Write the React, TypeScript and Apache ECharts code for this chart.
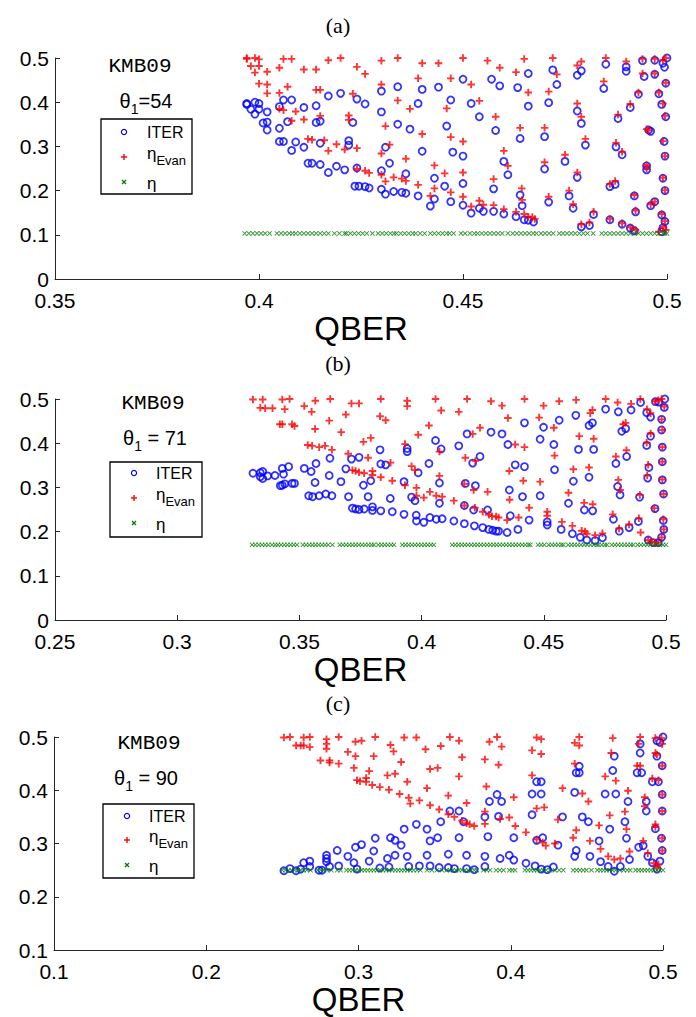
import React, { useEffect, useRef } from "react";
import * as echarts from "echarts";

// ---------- Panel (a): theta1 = 54 ----------
const iterA: number[][] = [
  [0.397,0.397],[0.397,0.395],[0.398,0.384],[0.399,0.373],[0.399,0.4],[0.4,0.397],[0.4,0.384],[0.402,0.378],
  [0.401,0.353],[0.402,0.355],[0.402,0.337],[0.406,0.405],[0.408,0.405],[0.405,0.39],[0.407,0.356],[0.405,0.341],
  [0.411,0.388],[0.414,0.392],[0.417,0.414],[0.42,0.42],[0.424,0.407],[0.426,0.396],[0.414,0.354],[0.415,0.357],
  [0.423,0.354],[0.43,0.425],[0.43,0.378],[0.434,0.435],[0.434,0.35],[0.437,0.339],[0.44,0.429],[0.439,0.397],
  [0.405,0.311],[0.406,0.311],[0.408,0.291],[0.409,0.31],[0.411,0.298],[0.415,0.307],[0.422,0.313],[0.422,0.303],
  [0.431,0.298],[0.432,0.262],[0.44,0.289],[0.412,0.262],[0.413,0.262],[0.415,0.259],[0.417,0.241],[0.419,0.255],
  [0.421,0.247],[0.424,0.251],[0.43,0.245],[0.436,0.238],[0.4235,0.21],[0.4245,0.21],[0.426,0.209],[0.427,0.206],
  [0.43,0.203],[0.431,0.192],[0.433,0.198],[0.435,0.196],[0.436,0.194],[0.439,0.188],[0.443,0.228],[0.443,0.181],
  [0.442,0.165],
  [0.444,0.434],[0.45,0.452],[0.457,0.452],[0.459,0.437],[0.466,0.465],[0.472,0.473],[0.473,0.44],[0.478,0.461],
  [0.479,0.471],[0.485,0.486],[0.49,0.48],[0.49,0.47],[0.4944,0.458],[0.497,0.463],[0.494,0.494],[0.497,0.495],
  [0.4994,0.479],[0.5,0.5],[0.499,0.488],[0.447,0.405],[0.452,0.397],[0.446,0.346],[0.454,0.367],[0.458,0.336],
  [0.4634,0.433],[0.466,0.391],[0.471,0.399],[0.478,0.38],[0.479,0.352],[0.4845,0.431],[0.493,0.418],[0.498,0.419],
  [0.491,0.388],[0.488,0.363],[0.4987,0.395],[0.4997,0.443],[0.4475,0.287],[0.45,0.278],[0.46,0.266],[0.461,0.236],
  [0.464,0.318],[0.47,0.322],[0.47,0.249],[0.475,0.266],[0.48,0.303],[0.478,0.23],[0.476,0.188],[0.477,0.16],
  [0.482,0.146],[0.4875,0.299],[0.489,0.281],[0.4955,0.337],[0.496,0.334],[0.4997,0.367],[0.4993,0.311],[0.4995,0.278],
  [0.495,0.256],[0.495,0.247],[0.499,0.228],[0.4995,0.2],[0.4455,0.21],[0.447,0.175],[0.45,0.216],[0.45,0.167],
  [0.4575,0.204],[0.452,0.149],[0.454,0.16],[0.455,0.153],[0.4575,0.153],[0.46,0.147],[0.463,0.141],[0.464,0.19],
  [0.4645,0.166],[0.465,0.134],[0.466,0.133],[0.4673,0.129],[0.471,0.174],[0.479,0.118],[0.481,0.121],[0.486,0.209],
  [0.4873,0.214],[0.486,0.134],[0.489,0.124],[0.492,0.188],[0.4923,0.152],[0.491,0.115],[0.492,0.109],[0.496,0.166],
  [0.497,0.175],[0.4987,0.145],[0.4995,0.13],[0.499,0.116],[0.4987,0.107]
];
const evanA: number[][] = [
  [0.397,0.5],[0.397,0.498],[0.399,0.5],[0.4,0.497],[0.398,0.482],[0.4,0.482],[0.399,0.467],[0.402,0.469],
  [0.406,0.498],[0.408,0.498],[0.405,0.478],[0.411,0.474],[0.414,0.474],[0.417,0.495],[0.42,0.5],[0.424,0.48],
  [0.426,0.464],[0.43,0.494],[0.434,0.5],[0.44,0.488],[0.4,0.442],[0.402,0.44],[0.402,0.42],[0.407,0.435],
  [0.405,0.421],[0.414,0.428],[0.415,0.428],[0.423,0.419],[0.43,0.44],[0.439,0.454],[0.434,0.404],[0.437,0.385],
  [0.405,0.385],[0.406,0.382],[0.409,0.379],[0.411,0.361],[0.408,0.358],[0.415,0.369],[0.422,0.37],[0.422,0.36],
  [0.431,0.346],[0.44,0.328],[0.412,0.317],[0.413,0.315],[0.416,0.314],[0.417,0.29],[0.419,0.305],[0.421,0.293],
  [0.424,0.296],[0.43,0.284],[0.432,0.304],[0.436,0.272],[0.424,0.249],[0.426,0.245],[0.427,0.24],[0.43,0.236],
  [0.431,0.221],[0.433,0.23],[0.435,0.227],[0.436,0.222],[0.439,0.213],[0.443,0.257],[0.443,0.205],[0.442,0.188],
  [0.444,0.488],[0.45,0.5],[0.456,0.494],[0.459,0.478],[0.465,0.498],[0.472,0.5],[0.473,0.463],[0.478,0.483],
  [0.479,0.492],[0.485,0.5],[0.49,0.492],[0.494,0.498],[0.497,0.498],[0.499,0.495],[0.4997,0.5],[0.447,0.454],
  [0.452,0.44],[0.446,0.386],[0.454,0.403],[0.458,0.367],[0.463,0.468],[0.466,0.422],[0.471,0.424],[0.478,0.397],
  [0.479,0.367],[0.4845,0.447],[0.493,0.422],[0.494,0.465],[0.497,0.465],[0.498,0.422],[0.491,0.396],[0.488,0.372],
  [0.499,0.397],[0.4997,0.444],[0.447,0.321],[0.45,0.311],[0.46,0.29],[0.461,0.256],[0.464,0.342],[0.47,0.342],
  [0.47,0.264],[0.475,0.281],[0.48,0.317],[0.478,0.241],[0.476,0.2],[0.477,0.169],[0.482,0.152],[0.4875,0.308],
  [0.489,0.288],[0.495,0.339],[0.4955,0.336],[0.4995,0.369],[0.499,0.312],[0.4995,0.278],[0.495,0.258],[0.495,0.25],
  [0.499,0.229],[0.4995,0.201],[0.4455,0.239],[0.447,0.196],[0.45,0.241],[0.45,0.186],[0.4575,0.226],[0.452,0.164],
  [0.454,0.177],[0.455,0.168],[0.4575,0.167],[0.46,0.158],[0.463,0.152],[0.4644,0.205],[0.4645,0.179],[0.465,0.147],
  [0.466,0.141],[0.467,0.14],[0.4676,0.136],[0.471,0.186],[0.479,0.124],[0.481,0.128],[0.486,0.215],[0.4873,0.222],
  [0.486,0.136],[0.489,0.126],[0.492,0.19],[0.4923,0.155],[0.491,0.117],[0.4923,0.111],[0.496,0.169],[0.497,0.175],
  [0.4987,0.147],[0.4995,0.131],[0.499,0.118],[0.498,0.107],[0.4997,0.111]
];
const etaAx: number[] = [
  0.3965,0.3975,0.3985,0.3995,0.4005,0.4015,0.4026,0.4044,0.4054,0.4064,0.4074,0.4082,0.409,0.41,0.411,0.412,
  0.413,0.414,0.415,0.416,0.417,0.4185,0.4197,0.421,0.4214,0.4224,0.4234,0.4244,0.4254,0.4264,0.4278,0.4292,
  0.4302,0.4312,0.4322,0.4331,0.4337,0.4347,0.4357,0.4367,0.4377,0.4384,0.4395,0.4406,0.442,0.443,0.444,0.445,
  0.446,0.4467,0.4477,0.4495,0.4505,0.4517,0.4528,0.4536,0.4546,0.4556,0.4566,0.4576,0.4586,0.4596,0.461,0.4622,
  0.4632,0.4642,0.4652,0.4662,0.4672,0.468,0.4691,0.4701,0.4711,0.4721,0.4736,0.4745,0.4755,0.4765,0.4775,0.4785,
  0.4795,0.4805,0.4819,0.484,0.485,0.486,0.487,0.488,0.489,0.49,0.491,0.492,0.493,0.494,0.495,0.496,0.497,0.498,
  0.499,0.4995,0.5
];
const etaAy = 0.103;

// ---------- Panel (b): theta1 = 71 ----------
const iterB: number[][] = [
  [0.331,0.332],[0.334,0.333],[0.335,0.336],[0.334,0.324],[0.335,0.32],[0.337,0.326],[0.34,0.327],[0.343,0.343],
  [0.3435,0.33],[0.3456,0.347],[0.3422,0.304],[0.343,0.305],[0.344,0.308],[0.347,0.309],[0.348,0.309],[0.352,0.343],
  [0.3548,0.336],[0.3568,0.354],[0.3564,0.311],[0.3538,0.281],[0.3554,0.279],
  [0.3581,0.281],[0.3608,0.285],[0.3633,0.281],[0.3625,0.366],[0.3622,0.327],[0.367,0.313],[0.369,0.342],[0.3713,0.364],
  [0.3744,0.368],[0.3701,0.279],[0.3762,0.305],[0.3792,0.315],[0.3781,0.279],[0.3717,0.253],[0.373,0.251],[0.3744,0.25],
  [0.3765,0.251],[0.3799,0.256],[0.3799,0.248],[0.3833,0.247],[0.388,0.245],[0.383,0.385],[0.3833,0.353],[0.3853,0.351],
  [0.3872,0.275],[0.3928,0.239],[0.3941,0.388],[0.3941,0.381],[0.3928,0.313],[0.3986,0.333],[0.3959,0.278],[0.3973,0.27],
  [0.3978,0.237],[0.3979,0.224],[0.4009,0.221],[0.4034,0.232],[0.406,0.228],[0.4084,0.229],[0.403,0.354],[0.4057,0.406],
  [0.408,0.387],[0.4073,0.31],[0.4073,0.264],[0.4132,0.224],[0.4175,0.218],[0.4216,0.213],[0.425,0.209],[0.4275,0.205],
  [0.4291,0.203],[0.4305,0.201],[0.4315,0.201],[0.435,0.198],[0.4152,0.394],[0.4186,0.421],[0.4209,0.355],[0.4239,0.37],
  [0.4284,0.425],[0.4329,0.421],[0.4353,0.397],[0.4383,0.351],[0.4421,0.347],[0.4179,0.309],[0.422,0.304],[0.4175,0.259],
  [0.4213,0.249],[0.427,0.249],[0.4359,0.294],[0.4363,0.236],[0.4413,0.279],[0.4394,0.205],[0.444,0.226],[0.4421,0.446],
  [0.4485,0.409],[0.4499,0.436],[0.4541,0.397],[0.4563,0.452],[0.4631,0.463],[0.4685,0.44],[0.4699,0.446],[0.4642,0.386],
  [0.4704,0.386],[0.4544,0.34],[0.4485,0.281],[0.4621,0.314],[0.4685,0.323],[0.4601,0.264],[0.4514,0.222],[0.4514,0.215],
  [0.4571,0.205],[0.4617,0.195],[0.4649,0.187],[0.4676,0.181],[0.471,0.18],[0.474,0.186],[0.4666,0.249],[0.47,0.247],
  [0.4753,0.477],[0.4805,0.471],[0.4857,0.475],[0.4819,0.427],[0.4835,0.433],[0.4795,0.354],[0.4839,0.37],[0.4802,0.302],
  [0.4812,0.283],[0.4785,0.228],[0.4809,0.201],[0.4849,0.209],[0.4892,0.278],[0.4887,0.223],[0.4896,0.492],[0.4921,0.469],
  [0.4937,0.459],[0.4921,0.395],[0.4937,0.416],[0.493,0.345],[0.4925,0.321],[0.4957,0.494],[0.4971,0.493],[0.4995,0.5],
  [0.4993,0.481],[0.4982,0.454],[0.4982,0.43],[0.4985,0.391],[0.4985,0.358],[0.4985,0.317],[0.499,0.285],[0.4955,0.252],
  [0.4989,0.225],[0.4991,0.205],[0.4982,0.187],[0.4927,0.181],[0.4948,0.175],[0.4968,0.175]
];
const evanB: number[][] = [
  [0.331,0.499],[0.335,0.499],[0.334,0.48],[0.336,0.479],[0.339,0.479],[0.343,0.499],[0.346,0.5],[0.344,0.477],
  [0.342,0.443],[0.343,0.443],[0.347,0.443],[0.348,0.439],[0.352,0.484],[0.355,0.471],[0.3565,0.496],[0.3564,0.432],
  [0.3534,0.396],[0.3552,0.394],
  [0.3626,0.5],[0.3622,0.451],[0.369,0.465],[0.3713,0.49],[0.3744,0.49],[0.3671,0.425],[0.3581,0.391],[0.3605,0.394],
  [0.3633,0.385],[0.3762,0.403],[0.3792,0.412],[0.37,0.376],[0.3781,0.367],[0.3717,0.339],[0.373,0.337],[0.3744,0.334],
  [0.3765,0.332],[0.3799,0.337],[0.3799,0.328],[0.3833,0.323],[0.388,0.315],[0.3833,0.5],[0.383,0.461],[0.3853,0.452],
  [0.3873,0.356],[0.3941,0.496],[0.3941,0.484],[0.3932,0.398],[0.3986,0.419],[0.403,0.44],[0.4057,0.5],[0.408,0.474],
  [0.4073,0.381],[0.3959,0.348],[0.3973,0.339],[0.4073,0.326],[0.3932,0.305],[0.3979,0.299],[0.3979,0.281],[0.4009,0.277],
  [0.4034,0.29],[0.406,0.281],[0.4084,0.279],[0.4132,0.27],[0.4175,0.259],[0.4218,0.254],[0.425,0.245],[0.4275,0.238],
  [0.4288,0.235],[0.4305,0.234],[0.4315,0.232],[0.435,0.226],[0.4152,0.471],[0.4186,0.5],[0.4209,0.421],[0.4239,0.435],
  [0.4284,0.495],[0.4329,0.485],[0.4353,0.457],[0.4179,0.367],[0.422,0.36],[0.4175,0.308],[0.4213,0.294],[0.427,0.29],
  [0.4359,0.337],[0.4416,0.315],[0.436,0.272],[0.4397,0.232],[0.444,0.254],[0.4383,0.397],[0.4421,0.391],[0.4421,0.5],
  [0.4481,0.458],[0.4499,0.485],[0.4541,0.435],[0.4563,0.495],[0.4632,0.498],[0.469,0.468],[0.4699,0.475],[0.4645,0.416],
  [0.4704,0.41],[0.4544,0.372],[0.4485,0.313],[0.4621,0.341],[0.4685,0.345],[0.4601,0.288],[0.4514,0.245],[0.4514,0.236],
  [0.4574,0.222],[0.4617,0.213],[0.4655,0.202],[0.4669,0.2],[0.4676,0.195],[0.471,0.192],[0.474,0.196],[0.4665,0.265],
  [0.47,0.262],[0.4753,0.5],[0.4802,0.492],[0.4857,0.489],[0.4825,0.443],[0.4835,0.446],[0.4795,0.37],[0.4838,0.384],
  [0.4805,0.317],[0.4812,0.294],[0.4782,0.239],[0.4808,0.207],[0.4849,0.216],[0.4893,0.283],[0.4889,0.23],[0.4896,0.198],
  [0.4895,0.5],[0.4922,0.477],[0.4937,0.468],[0.4921,0.401],[0.4937,0.422],[0.4927,0.351],[0.4923,0.327],[0.4955,0.495],
  [0.4968,0.497],[0.4982,0.5],[0.4993,0.483],[0.4982,0.454],[0.4985,0.43],[0.4985,0.391],[0.4985,0.358],[0.4985,0.318],
  [0.499,0.285],[0.4952,0.253],[0.4989,0.228],[0.4991,0.205],[0.4982,0.187],[0.4927,0.181],[0.4941,0.177],[0.4955,0.175],
  [0.4968,0.175]
];
const etaBx: number[] = [
  0.3306,0.332,0.3334,0.3347,0.336,0.3373,0.3388,0.3401,0.3412,0.3425,0.3438,0.3451,0.3464,0.3477,0.349,0.3514,
  0.3527,0.354,0.3553,0.3566,0.3579,0.3592,0.3605,0.3618,0.3635,0.3665,0.3678,0.3691,0.3704,0.3717,0.373,0.3743,
  0.3756,0.3769,0.3782,0.3795,0.3805,0.3823,0.3836,0.3849,0.3862,0.3875,0.3887,0.3921,0.3934,0.3947,0.396,0.3973,
  0.3986,0.3999,0.4012,0.4025,0.4038,0.405,0.4125,0.4138,0.4151,0.4164,0.4177,0.419,0.4203,0.4216,0.4229,0.4242,
  0.4255,0.4268,0.4281,0.4294,0.4307,0.432,0.4333,0.4346,0.4359,0.4372,0.4385,0.4398,0.4411,0.4424,0.4437,0.4445,
  0.4476,0.4489,0.4502,0.452,0.4533,0.4546,0.4559,0.4572,0.458,0.46,0.4613,0.4626,0.4639,0.4652,0.4665,0.4678,
  0.4691,0.4704,0.4717,0.4724,0.4737,0.475,0.4759,0.4778,0.4791,0.4804,0.4817,0.483,0.4843,0.4856,0.4866,0.4884,
  0.4897,0.491,0.4923,0.4936,0.4949,0.4962,0.4975,0.4988,0.5
];
const etaBy = 0.17;

// ---------- Panel (c): theta1 = 90 ----------
const iterC: number[][] = [
  [0.251,0.249],[0.255,0.253],[0.259,0.249],[0.262,0.252],[0.264,0.264],[0.268,0.267],[0.268,0.257],[0.274,0.25],
  [0.276,0.25],[0.279,0.278],[0.279,0.272],[0.279,0.266],[0.281,0.257],[0.286,0.287],[0.287,0.258],[0.293,0.276],
  [0.298,0.293],[0.297,0.264],[0.302,0.298],[0.299,0.252],[0.307,0.267],[0.31,0.286],[0.311,0.31],[0.314,0.254],
  [0.319,0.272],[0.32,0.256],[0.321,0.311],[0.324,0.306],[0.324,0.278],[0.328,0.297],[0.33,0.327],[0.332,0.276],
  [0.333,0.257],[0.338,0.336],[0.34,0.258],[0.345,0.327],[0.345,0.278],[0.347,0.258],[0.347,0.305],[0.352,0.311],
  [0.354,0.341],[0.353,0.255],[0.359,0.28],[0.359,0.255],[0.36,0.361],[0.366,0.361],[0.366,0.311],[0.363,0.253],
  [0.369,0.341],[0.371,0.253],[0.371,0.278],[0.376,0.251],[0.383,0.35],[0.383,0.276],[0.383,0.257],[0.385,0.313],
  [0.386,0.379],[0.391,0.392],[0.394,0.379],[0.392,0.351],[0.393,0.272],[0.399,0.278],[0.402,0.269],[0.402,0.311],
  [0.41,0.263],[0.414,0.393],[0.414,0.354],[0.417,0.416],[0.42,0.416],[0.42,0.393],[0.416,0.258],[0.417,0.306],
  [0.421,0.311],[0.42,0.252],[0.424,0.251],[0.428,0.256],[0.431,0.297],[0.434,0.35],[0.442,0.396],[0.442,0.276],
  [0.443,0.287],[0.445,0.445],[0.443,0.433],[0.445,0.433],[0.447,0.35],[0.451,0.341],[0.452,0.276],[0.458,0.305],
  [0.459,0.266],[0.465,0.327],[0.464,0.257],[0.467,0.437],[0.468,0.464],[0.462,0.393],[0.469,0.393],[0.472,0.257],
  [0.468,0.248],[0.478,0.27],[0.475,0.341],[0.476,0.31],[0.477,0.379],[0.483,0.433],[0.486,0.433],[0.485,0.47],
  [0.485,0.487],[0.484,0.293],[0.487,0.296],[0.49,0.276],[0.489,0.379],[0.489,0.361],[0.493,0.416],[0.497,0.416],
  [0.496,0.464],[0.496,0.493],[0.5,0.5],[0.498,0.49],[0.4995,0.446],[0.4995,0.392],[0.4995,0.361],[0.499,0.31],
  [0.4995,0.287],[0.495,0.328],[0.498,0.267],[0.493,0.264],[0.496,0.252]
];
const evanC: number[][] = [
  [0.251,0.499],[0.255,0.5],[0.264,0.499],[0.268,0.5],[0.259,0.484],[0.262,0.484],[0.264,0.484],[0.268,0.481],
  [0.279,0.496],[0.279,0.487],[0.279,0.478],[0.287,0.5],[0.298,0.491],[0.302,0.493],[0.311,0.5],[0.33,0.499],
  [0.338,0.499],[0.36,0.5],[0.366,0.493],[0.391,0.5],[0.417,0.499],[0.42,0.496],[0.445,0.5],[0.467,0.498],
  [0.485,0.5],[0.495,0.498],[0.499,0.498],[0.275,0.456],[0.281,0.456],[0.281,0.452],[0.287,0.45],[0.293,0.472],
  [0.298,0.464],[0.31,0.464],[0.321,0.485],[0.323,0.473],[0.328,0.453],[0.344,0.477],[0.354,0.483],[0.368,0.462],
  [0.383,0.458],[0.386,0.491],[0.394,0.482],[0.392,0.448],[0.414,0.475],[0.42,0.468],[0.442,0.489],[0.445,0.484],
  [0.466,0.47],[0.484,0.487],[0.495,0.47],[0.496,0.467],[0.297,0.442],[0.299,0.419],[0.301,0.417],[0.305,0.416],
  [0.307,0.436],[0.305,0.423],[0.309,0.41],[0.314,0.406],[0.319,0.428],[0.324,0.431],[0.32,0.401],[0.327,0.393],
  [0.332,0.416],[0.333,0.386],[0.334,0.375],[0.34,0.381],[0.347,0.44],[0.352,0.442],[0.345,0.404],[0.347,0.372],
  [0.353,0.364],[0.359,0.39],[0.366,0.426],[0.371,0.376],[0.359,0.355],[0.363,0.35],[0.368,0.343],[0.371,0.338],
  [0.373,0.336],[0.376,0.333],[0.384,0.407],[0.383,0.36],[0.383,0.337],[0.393,0.346],[0.399,0.349],[0.402,0.387],
  [0.403,0.333],[0.41,0.321],[0.414,0.428],[0.417,0.366],[0.422,0.368],[0.417,0.308],[0.421,0.302],[0.423,0.296],
  [0.429,0.3],[0.431,0.345],[0.434,0.404],[0.442,0.45],[0.447,0.394],[0.451,0.379],[0.443,0.325],[0.441,0.311],
  [0.452,0.305],[0.458,0.334],[0.465,0.353],[0.459,0.29],[0.464,0.276],[0.468,0.27],[0.472,0.272],[0.469,0.418],
  [0.462,0.426],[0.477,0.399],[0.475,0.36],[0.476,0.327],[0.478,0.285],[0.483,0.446],[0.485,0.446],[0.488,0.387],
  [0.488,0.37],[0.493,0.422],[0.497,0.419],[0.487,0.305],[0.49,0.282],[0.495,0.331],[0.495,0.336],[0.494,0.263],
  [0.497,0.261],[0.4995,0.446],[0.4995,0.392],[0.4995,0.361],[0.4995,0.31],[0.4995,0.287],[0.4995,0.487],[0.496,0.255]
];
const etaCx: number[] = [
  0.25,0.252,0.254,0.256,0.258,0.26,0.262,0.264,0.266,0.2685,0.2733,0.2753,0.2773,0.2793,0.2821,0.286,
  0.2882,0.2921,0.2941,0.2961,0.2981,0.3001,0.3021,0.3041,0.3061,0.3081,0.3101,0.3121,0.3141,0.3161,0.3181,0.3201,
  0.3221,0.3241,0.3261,0.3281,0.3301,0.3321,0.3341,0.3362,0.3384,0.3406,0.345,0.3482,0.3515,0.3548,0.358,0.36,
  0.362,0.364,0.366,0.368,0.37,0.372,0.374,0.376,0.3777,0.3821,0.3843,0.3864,0.3904,0.3928,0.3952,0.3991,
  0.4009,0.4028,0.4093,0.4113,0.4133,0.4153,0.4173,0.4193,0.4213,0.4233,0.4257,0.429,0.4318,0.4345,0.441,0.4432,
  0.4454,0.4476,0.4497,0.453,0.4569,0.4589,0.4609,0.4629,0.4649,0.4669,0.4689,0.4716,0.4742,0.4765,0.4785,0.482,
  0.484,0.486,0.488,0.49,0.492,0.494,0.496,0.498,0.5
];
const etaCy = 0.25;

// ---------- Axis ranges / labels ----------
const panelLetters = ["(a)", "(b)", "(c)"];
const thetaLabels = ["=54", " = 71", " = 90"];
const xRanges = [[0.35, 0.5, 0.05], [0.25, 0.5, 0.05], [0.1, 0.5, 0.1]];
const yRanges = [[0, 0.5, 0.1], [0, 0.5, 0.1], [0.1, 0.5, 0.1]];
const legendNames = ["ITER", "ηEvan", "η"];

const SANS = "'Liberation Sans', Arial, Helvetica, sans-serif";
const SERIF = "'Liberation Serif', 'Times New Roman', serif";
const MONO = "'Liberation Mono', 'Courier New', monospace";
const AXIS_COLOR = "#262626";
const PLUS = "path://M3,0H5V3H8V5H5V8H3V5H0V3H3Z";
const CROSS = "path://M0,1L1,0L4,3L7,0L8,1L5,4L8,7L7,8L4,5L1,8L0,7L3,4Z";

const grids = [
  { left: 55, top: 58, width: 612, height: 221 },
  { left: 55, top: 399, width: 611, height: 221 },
  { left: 54, top: 737, width: 609, height: 220 },
];

// annotation layout (pixels)
const annot = [
  { letter: [338, 25], kmb: [140, 66], theta: [146, 103.5], box: [101, 119, 91, 75], mk: 124, tx: 147, rows: [132, 157, 182] },
  { letter: [338, 363], kmb: [153, 403], theta: [155, 440.5], box: [110, 462, 92, 75], mk: 134, tx: 156, rows: [473, 498, 523] },
  { letter: [338, 703], kmb: [149, 743], theta: [146, 780.5], box: [103, 804, 91, 74], mk: 127, tx: 149, rows: [816, 840, 865] },
];

function buildOption() {
  const iter = [iterA, iterB, iterC];
  const evan = [evanA, evanB, evanC];
  const etaX = [etaAx, etaBx, etaCx];
  const etaY = [etaAy, etaBy, etaCy];

  const xAxis: any[] = [];
  const yAxis: any[] = [];
  const series: any[] = [];
  const graphic: any[] = [];

  for (let i = 0; i < 3; i++) {
    xAxis.push({
      gridIndex: i, type: "value",
      min: xRanges[i][0], max: xRanges[i][1], interval: xRanges[i][2],
      axisLine: { show: true, lineStyle: { color: AXIS_COLOR, width: 1 } },
      axisTick: { show: true, inside: true, length: 5, lineStyle: { color: AXIS_COLOR } },
      axisLabel: { color: "#000", fontSize: 21, fontFamily: SANS, margin: 11 },
      splitLine: { show: false },
      name: "QBER", nameLocation: "middle", nameGap: 30,
      nameTextStyle: { fontSize: 33, color: "#000", fontFamily: SANS },
    });
    yAxis.push({
      gridIndex: i, type: "value",
      min: yRanges[i][0], max: yRanges[i][1], interval: yRanges[i][2],
      axisLine: { show: true, lineStyle: { color: AXIS_COLOR, width: 1 } },
      axisTick: { show: true, inside: true, length: 5, lineStyle: { color: AXIS_COLOR } },
      axisLabel: { color: "#000", fontSize: 21, fontFamily: SANS, margin: 6 },
      splitLine: { show: false },
    });
    series.push({
      name: legendNames[0], type: "scatter", xAxisIndex: i, yAxisIndex: i, clip: false,
      symbol: "circle", symbolSize: 7,
      itemStyle: { color: "rgba(255,255,255,0)", borderColor: "#0000ff", borderWidth: 1.8 },
      data: iter[i], silent: true, z: 2,
    });
    series.push({
      name: legendNames[1], type: "scatter", xAxisIndex: i, yAxisIndex: i, clip: false,
      symbol: PLUS, symbolSize: 7.5, itemStyle: { color: "#ff0000" },
      data: evan[i], silent: true, z: 3,
    });
    series.push({
      name: legendNames[2], type: "scatter", xAxisIndex: i, yAxisIndex: i, clip: false,
      symbol: CROSS, symbolSize: 5, itemStyle: { color: "#008000" },
      data: etaX[i].map((x) => [x, etaY[i]]), silent: true, z: 4,
    });

    const a = annot[i];
    graphic.push({
      type: "text", x: a.letter[0], y: a.letter[1],
      style: { text: panelLetters[i], fontSize: 22, fontFamily: SERIF, fill: "#000", align: "center", verticalAlign: "middle" },
    });
    graphic.push({
      type: "text", x: a.kmb[0], y: a.kmb[1],
      style: { text: "KMB09", fontSize: 21, fontFamily: MONO, fill: "#000", align: "center", verticalAlign: "middle" },
    });
    graphic.push({
      type: "text", x: a.theta[0], y: a.theta[1],
      style: {
        text: "{t|θ}{s|1}{t|" + thetaLabels[i] + "}",
        align: "center", verticalAlign: "middle", fill: "#000",
        rich: {
          t: { fontSize: 20, fontFamily: SANS, lineHeight: 25, verticalAlign: "top", fill: "#000" },
          s: { fontSize: 14, fontFamily: SANS, verticalAlign: "bottom", fill: "#000" },
        },
      },
    });
    graphic.push({
      type: "rect", shape: { x: a.box[0], y: a.box[1], width: a.box[2], height: a.box[3] },
      style: { fill: "#fff", stroke: "#000", lineWidth: 1.3 }, z: 10,
    });
    const [r1, r2, r3] = a.rows;
    const m = a.mk;
    graphic.push({ type: "circle", shape: { cx: m, cy: r1, r: 2.6 }, style: { fill: "none", stroke: "#0000ff", lineWidth: 1.2 }, z: 11 });
    graphic.push({ type: "line", shape: { x1: m - 3, y1: r2, x2: m + 3, y2: r2 }, style: { stroke: "#ff0000", lineWidth: 1.4 }, z: 11 });
    graphic.push({ type: "line", shape: { x1: m, y1: r2 - 3, x2: m, y2: r2 + 3 }, style: { stroke: "#ff0000", lineWidth: 1.4 }, z: 11 });
    graphic.push({ type: "line", shape: { x1: m - 2, y1: r3 - 2, x2: m + 2, y2: r3 + 2 }, style: { stroke: "#008000", lineWidth: 1.2 }, z: 11 });
    graphic.push({ type: "line", shape: { x1: m - 2, y1: r3 + 2, x2: m + 2, y2: r3 - 2 }, style: { stroke: "#008000", lineWidth: 1.2 }, z: 11 });
    graphic.push({
      type: "text", x: a.tx, y: r1, z: 11,
      style: { text: "ITER", fontSize: 16, fontFamily: SANS, fill: "#000", align: "left", verticalAlign: "middle" },
    });
    graphic.push({
      type: "text", x: a.tx, y: r2 - 1, z: 11,
      style: {
        text: "{e|η}{s|Evan}", align: "left", verticalAlign: "middle", fill: "#000",
        rich: {
          e: { fontSize: 17, fontFamily: SANS, lineHeight: 22, verticalAlign: "top", fill: "#000" },
          s: { fontSize: 13, fontFamily: SANS, verticalAlign: "bottom", fill: "#000" },
        },
      },
    });
    graphic.push({
      type: "text", x: a.tx, y: r3 + 1, z: 11,
      style: { text: "η", fontSize: 17, fontFamily: SANS, fill: "#000", align: "left", verticalAlign: "middle" },
    });
  }

  return {
    animation: false,
    backgroundColor: "#ffffff",
    grid: grids.map((g) => ({ ...g, containLabel: false })),
    xAxis, yAxis, series, graphic,
  };
}

export default function App() {
  const ref = useRef<HTMLDivElement | null>(null);
  useEffect(() => {
    if (!ref.current) return;
    const chart = echarts.init(ref.current, undefined, { renderer: "svg" });
    chart.setOption(buildOption() as any);
    return () => chart.dispose();
  }, []);
  return (
    <div
      ref={ref}
      style={{ position: "absolute", left: 0, top: 0, width: 696, height: 1017, background: "#fff" }}
    />
  );
}
